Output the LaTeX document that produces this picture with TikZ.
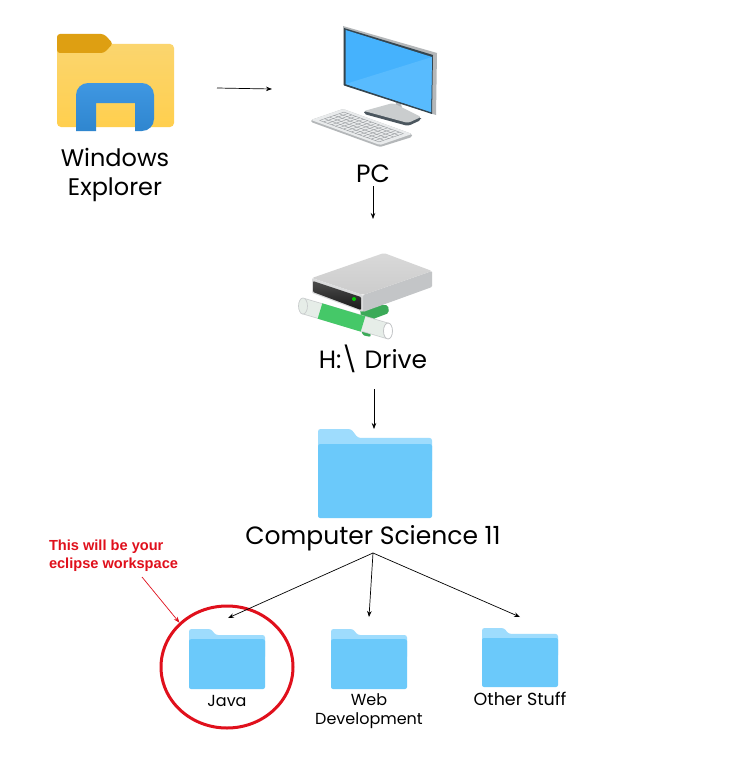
\documentclass[tikz,border=0pt]{standalone}
\usepackage{fontspec}
\setmainfont{Poppins}
\newfontfamily\notefont{Liberation Sans}
\usetikzlibrary{shapes.geometric,arrows.meta}
\definecolor{folderfront}{HTML}{6BC9FA}
\definecolor{folderback}{HTML}{9EDCFD}
\definecolor{notered}{HTML}{E0101C}
\definecolor{yellowtop}{HTML}{FBD56E}
\definecolor{yellowbot}{HTML}{FFCF4E}
\definecolor{tabcolor}{HTML}{DE9F12}
\definecolor{archtop}{HTML}{3F97E2}
\definecolor{archbot}{HTML}{2F86CF}
\definecolor{screenblue}{HTML}{45B2FD}
\definecolor{screenlight}{HTML}{58BBFE}
\definecolor{bezel}{HTML}{34454F}
\definecolor{edgegray}{HTML}{B4B7B9}
\definecolor{keybody}{HTML}{E9EBEC}
\definecolor{keygap}{HTML}{8F9396}
\definecolor{pipegreen}{HTML}{45C868}
\definecolor{pipewhite}{HTML}{E6EDE8}
\tikzset{
  connector/.style={draw=black,line width=0.7pt,-{Stealth[length=6pt,width=4.5pt]}},
  redconnector/.style={draw=notered,line width=0.7pt,-{Stealth[length=6pt,width=4.5pt]}},
  zone/.style={inner sep=0pt,outer sep=0pt,draw=none},
  biglabel/.style={inner sep=0pt,outer sep=0pt,align=center,font=\fontsize{25}{29}\selectfont},
  smalllabel/.style={inner sep=0pt,outer sep=0pt,align=center,font=\fontsize{16}{19}\selectfont},
  notelabel/.style={inner sep=0pt,outer sep=0pt,align=left,text=notered,font=\notefont\bfseries\fontsize{14.6}{17.5}\selectfont},
}
\newcommand{\bluefolder}[4]{%
  \begin{scope}[shift={(#1,#2)},x=#3pt,y=-#4pt]
    \fill[folderback,rounded corners=2.5pt] (0,0.5) -- (0,0) -- (0.29,0) -- (0.35,0.10) -- (1,0.10) -- (1,0.5) -- cycle;
    \fill[folderfront,rounded corners=2pt] (0,0.17) -- (1,0.17) -- (1,1) -- (0,1) -- cycle;
  \end{scope}}
\begin{document}
\begin{tikzpicture}[x=1pt,y=-1pt]
\useasboundingbox (0,0) rectangle (750,760);
\fill[white] (0,0) rectangle (750,760);

% Explorer icon
\shade[top color=yellowtop,bottom color=yellowbot,rounded corners=4pt] (57,44) rectangle (174,127);
\fill[tabcolor,rounded corners=3pt] (57,53) -- (57,34) -- (104,34) -- (113,43.5) -- (104,53) -- cycle;
\shade[top color=archtop,bottom color=archbot] [rounded corners=12pt] (76,131) -- (76,83) -- (154,83) -- (154,131) [sharp corners] -- (135,131) -- (135,103) -- (96,103) -- (96,131) -- cycle;

% PC icon: keyboard
\fill[edgegray,rounded corners=1.5pt] (311,120) -- (343,109) -- (412,134) -- (412,137) -- (380,147) -- (311,122) -- cycle;
\fill[keybody,rounded corners=1.5pt] (311,120) -- (343,109) -- (412,134) -- (380,145) -- cycle;
\foreach \i in {0,...,15}{
  \pgfmathsetmacro{\xa}{311+69*(0.07+0.86*\i/15)+32*0.12}
  \pgfmathsetmacro{\ya}{120+25*(0.07+0.86*\i/15)-11*0.12}
  \pgfmathsetmacro{\xb}{311+69*(0.07+0.86*\i/15)+32*0.88}
  \pgfmathsetmacro{\yb}{120+25*(0.07+0.86*\i/15)-11*0.88}
  \draw[keygap,line width=0.35pt] (\xa,\ya) -- (\xb,\yb);
}
\foreach \j in {0,...,5}{
  \pgfmathsetmacro{\xa}{311+69*0.07+32*(0.12+0.76*\j/5)}
  \pgfmathsetmacro{\ya}{120+25*0.07-11*(0.12+0.76*\j/5)}
  \pgfmathsetmacro{\xb}{311+69*0.93+32*(0.12+0.76*\j/5)}
  \pgfmathsetmacro{\yb}{120+25*0.93-11*(0.12+0.76*\j/5)}
  \draw[keygap,line width=0.35pt] (\xa,\ya) -- (\xb,\yb);
}
% PC icon: stand
\fill[edgegray] (400,100) -- (403,112) -- (398,112) -- (395,100) -- cycle;
\fill[bezel!70!gray,rounded corners=2pt] (364,111) -- (364,114) -- (408,126) -- (421,120) -- (421,117) -- cycle;
\fill[edgegray!70!white,rounded corners=2pt] (364,111) -- (393,103) -- (421,117) -- (408,123) -- cycle;
% PC icon: monitor
\fill[edgegray] (343,26) -- (437,53) -- (436,115) -- (343,85) -- cycle;
\fill[bezel] (344,28) -- (433,55) -- (432,114) -- (344,85.5) -- cycle;
\fill[screenblue] (345.5,30) -- (432,57) -- (431,112) -- (345.5,84) -- cycle;
\fill[screenlight] (432,57) -- (431,112) -- (345.5,84) -- cycle;

% Drive icon: pipe and green collar
\fill[pipegreen!85!black,rounded corners=2pt] (360,305) -- (388,305) -- (389,313) -- (373,319) -- (369,327) -- (371,337) -- (362,335) -- cycle;
\draw[edgegray!70!white,line width=16pt] (303,306) -- (388,331);
\draw[pipewhite,line width=14.5pt] (303,306) -- (388,331);
\draw[edgegray!70!white,line width=0.7pt,fill=pipewhite] (303,306) ellipse[x radius=4.5pt,y radius=8pt];
\draw[edgegray!80!white,line width=0.8pt,fill=white] (388,331) ellipse[x radius=4.5pt,y radius=8pt];
\draw[pipegreen,line width=16pt] (320,311) -- (363,324);
\fill[edgegray!80!white,rounded corners=1pt] (363,295) -- (432,271) -- (432,287) -- (363,312) -- cycle;
\shade[top color=white!85!black,bottom color=white!80!black,rounded corners=2pt] (312,278) -- (384,253) -- (432,271) -- (363,295) -- cycle;
\fill[edgegray!50!white,rounded corners=1pt] (312,278) -- (363,295) -- (363,312) -- (312,293) -- cycle;
\shade[top color=black!70,bottom color=black!90,rounded corners=1pt] (313,281) -- (361,297) -- (361,310) -- (313,292) -- cycle;
\fill[green!80!black] (354,299) circle[radius=2pt];

% Folders
\bluefolder{318}{429}{114}{89}
\bluefolder{189}{629}{76}{60}
\bluefolder{331}{629}{76}{60}
\bluefolder{482}{628}{76}{59}

% Labels and regions used by the connectors
\node[biglabel,anchor=north,font=\fontsize{24}{29}\selectfont] (explorerlabel) at (115,148) {Windows\\Explorer};
\node[biglabel] (pclabel) at (373,174) {PC};
\node[biglabel] (drivelabel) at (373,359) {H:\textbackslash{} Drive};
\node[biglabel] (cslabel) at (373,538) {Computer Science 11};
\node[smalllabel] (javalabel) at (227,701) {Java};
\node[smalllabel] (weblabel) at (369,711) {Web\\Development};
\node[smalllabel,font=\fontsize{17.5}{19}\selectfont] (otherlabel) at (520,699) {Other Stuff};
\node[notelabel,anchor=north west] (note) at (49,540) {This will be your\\eclipse workspace};

\node[zone,minimum width=160pt,minimum height=4pt] (explorer) at (137,88) {};
\node[zone,anchor=west,minimum width=170pt,minimum height=4pt] (pc) at (272,89) {};
\node[zone,minimum width=4pt,minimum height=1pt,anchor=south] (pcfoot) at (373,186) {};
\node[zone,minimum width=4pt,minimum height=1pt,anchor=north] (drive) at (373,219) {};
\node[zone,minimum width=4pt,minimum height=1pt,anchor=south] (drivefoot) at (374,389) {};
\node[zone,minimum width=114pt,minimum height=89pt,anchor=north] (csfolder) at (374,429) {};
\node[zone,minimum width=4pt,minimum height=1pt,anchor=south] (csfoot) at (373,553) {};
\node[zone,minimum width=76pt,minimum height=4pt,anchor=north] (javatop) at (228,618) {};
\node[zone,minimum width=76pt,minimum height=4pt,anchor=north] (webtop) at (369,617) {};
\node[zone,minimum width=76pt,minimum height=4pt,anchor=north] (othertop) at (520,617) {};
\node[ellipse,draw=notered,line width=3pt,inner sep=0pt,minimum width=132pt,minimum height=122pt] (ring) at (227,667) {};
\coordinate (notefoot) at (142,577);

% Connectors
\draw[connector] (explorer.east) -- (pc.west);
\draw[connector] (pcfoot.south) -- (drive.north);
\draw[connector] (drivefoot.south) -- (csfolder.north);
\draw[connector] (csfoot.south) -- (javatop.north);
\draw[connector] (csfoot.south) -- (webtop.north);
\draw[connector] (csfoot.south) -- (othertop.north);
\draw[redconnector] (notefoot) -- (ring.137);
\end{tikzpicture}
\end{document}
